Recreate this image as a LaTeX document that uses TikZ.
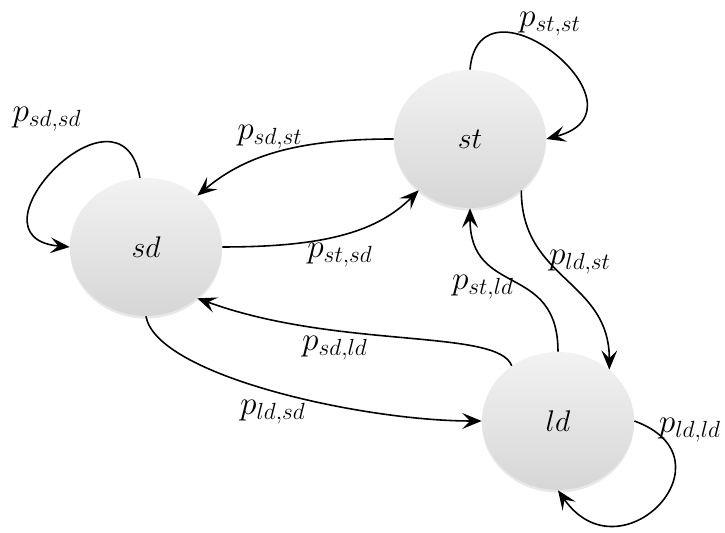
\RequirePackage{fix-cm}
\documentclass[tikz,border=0pt]{standalone}
\usetikzlibrary{arrows.meta,shapes.geometric,shadows}

\begin{document}
\begin{tikzpicture}[x=0.02cm,y=0.02cm,every node/.style={font=\fontsize{19}{23}\selectfont,inner sep=1pt},
  state/.style={ellipse,minimum width=3.04cm,minimum height=2.76cm,inner sep=0pt,
    top color=gray!10,bottom color=gray!32,font=\fontsize{17}{20}\selectfont,
    drop shadow={opacity=0.18,shadow xshift=0pt,shadow yshift=-1.5pt}},
  trans/.style={line width=0.9pt,-{Stealth[length=11pt,width=9pt,inset=4.5pt]}}]
  \useasboundingbox (0,0) rectangle (725,533);
  \foreach \n/\x/\y in {sd/146/286, st/470/394, ld/558/112}
     \node[state] (\n) at (\x,\y) {$\n$};
  \foreach \n/\x/\y/\lab in {psdsd/47/414/{sd,sd}, psdst/270/396/{sd,st}, pstsd/340/278/{st,sd},
     psdld/335/185/{sd,ld}, pldsd/273/121/{ld,sd}, pstld/483/246/{st,ld},
     pldst/580/271/{ld,st}, pldld/690/103/{ld,ld}, pstst/550/509/{st,st}}
     \node (\n) at (\x,\y) {$p_{\lab}$};
  \draw[trans] (sd.95) .. controls +(100:110) and +(175:110) .. (sd.180);
  \draw[trans] (st.180) .. controls +(180:100) and +(40:60) .. (sd.45);
  \draw[trans] (sd.0) .. controls +(0:100) and +(225:60) .. (st.225);
  \draw[trans] (ld.130) .. controls +(110:40) and +(-20:150) .. (sd.-45);
  \draw[trans] (sd.-90) .. controls +(-80:60) and +(180:120) .. (ld.180);
  \draw[trans] (ld.90) .. controls +(90:90) and +(-90:90) .. (st.-90);
  \draw[trans] (st.-45) .. controls +(-90:90) and +(90:90) .. (ld.45);
  \draw[trans] (ld.0) .. controls +(-20:110) and +(-55:110) .. (ld.-90);
  \draw[trans] (st.90) .. controls +(85:105) and +(15:115) .. (st.0);
\end{tikzpicture}
\end{document}
